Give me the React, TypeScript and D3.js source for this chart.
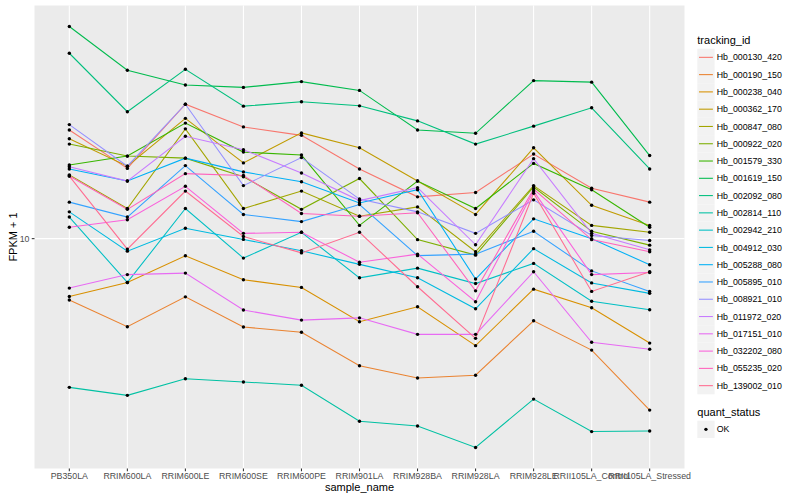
import React from "react";
import * as d3 from "d3";

// ---------- data ----------
const sampleNames = [
  "PB350LA", "RRIM600LA", "RRIM600LE", "RRIM600SE", "RRIM600PE", "RRIM901LA",
  "RRIM928BA", "RRIM928LA", "RRIM928LE", "RRII105LA_Control", "RRII105LA_Stressed",
];

const trackingIds = [
  "Hb_000130_420", "Hb_000190_150", "Hb_000238_040", "Hb_000362_170", "Hb_000847_080",
  "Hb_000922_020", "Hb_001579_330", "Hb_001619_150", "Hb_002092_080", "Hb_002814_110",
  "Hb_002942_210", "Hb_004912_030", "Hb_005288_080", "Hb_005895_010", "Hb_008921_010",
  "Hb_011972_020", "Hb_017151_010", "Hb_032202_080", "Hb_055235_020", "Hb_139002_010",
];

// FPKM + 1 per sample (same order as sampleNames)
const hb000130_420 = [27.2, 19.1, 34.5, 28.0, 25.9, 19.0, 14.7, 15.3, 21.8, 15.9, 14.0];
const hb000190_150 = [5.68, 4.44, 5.85, 4.43, 4.22, 3.10, 2.77, 2.84, 4.69, 3.58, 2.06];
const hb000238_040 = [5.87, 6.68, 8.54, 6.85, 6.38, 4.65, 5.34, 3.73, 6.28, 5.29, 3.82];
const hb000362_170 = [25.1, 19.5, 30.3, 20.1, 26.5, 23.1, 17.0, 12.5, 23.1, 13.6, 11.3];
const hb000847_080 = [18.0, 13.2, 27.5, 13.2, 15.5, 12.3, 13.4, 8.86, 16.3, 11.3, 10.6];
const hb000922_020 = [23.9, 21.4, 21.0, 17.7, 13.1, 17.4, 9.91, 8.59, 16.1, 10.7, 9.42];
const hb001579_330 = [19.7, 21.4, 29.0, 22.2, 21.6, 11.3, 17.0, 13.2, 20.0, 15.7, 11.1];
const hb001619_150 = [70.6, 47.2, 41.2, 40.3, 42.5, 39.2, 27.2, 26.4, 42.9, 42.3, 21.5];
const hb002092_080 = [55.2, 32.2, 47.6, 33.9, 35.3, 34.0, 29.6, 23.9, 28.2, 33.4, 19.0];
const hb002814_110 = [2.54, 2.36, 2.75, 2.67, 2.59, 1.86, 1.78, 1.46, 2.28, 1.69, 1.70];
const hb002942_210 = [12.2, 6.68, 13.2, 8.36, 10.6, 6.97, 7.62, 6.61, 7.96, 5.62, 5.19];
const hb004912_030 = [12.8, 8.91, 11.0, 9.93, 8.94, 7.89, 6.97, 5.24, 9.12, 6.65, 6.04];
const hb005288_080 = [19.0, 17.0, 21.0, 18.5, 16.9, 13.9, 15.7, 6.89, 12.0, 10.0, 7.86];
const hb005895_010 = [14.0, 12.2, 19.6, 12.5, 11.7, 13.7, 8.55, 8.67, 10.7, 7.43, 6.15];
const hb008921_010 = [28.6, 19.5, 34.5, 16.3, 21.1, 14.4, 12.8, 10.5, 14.3, 10.3, 9.83];
const hb011972_020 = [19.4, 17.0, 25.7, 22.7, 18.3, 14.2, 16.0, 9.45, 20.9, 10.5, 9.02];
const hb017151_010 = [6.34, 7.18, 7.28, 5.18, 4.72, 4.82, 4.14, 4.14, 7.37, 3.85, 3.61];
const hb032202_080 = [11.1, 11.9, 16.2, 10.5, 10.6, 8.05, 8.67, 5.59, 15.5, 7.18, 7.32];
const hb055235_020 = [17.8, 13.1, 18.2, 17.9, 12.6, 12.3, 12.7, 6.18, 15.8, 9.91, 8.86];
const hb139002_010 = [17.8, 9.08, 15.5, 10.2, 8.77, 10.6, 6.42, 3.99, 15.2, 6.15, 7.37];

const seriesValues = [
  hb000130_420, hb000190_150, hb000238_040, hb000362_170, hb000847_080,
  hb000922_020, hb001579_330, hb001619_150, hb002092_080, hb002814_110,
  hb002942_210, hb004912_030, hb005288_080, hb005895_010, hb008921_010,
  hb011972_020, hb017151_010, hb032202_080, hb055235_020, hb139002_010,
];

const quantStatus = ["OK"];
const yTickValues = [10];

// ---------- styles ----------
const palette = [
  "#F8766D", "#EA8331", "#D89000", "#C09B00", "#A3A500", "#7CAE00", "#39B600",
  "#00BB4E", "#00BF7D", "#00C1A3", "#00BFC4", "#00BAE0", "#00B0F6", "#35A2FF",
  "#9590FF", "#C77CFF", "#E76BF3", "#FA62DB", "#FF62BC", "#FF6C91",
];
const FONT = "'Liberation Sans', Arial, Helvetica, sans-serif";
const W = 800;
const H = 500;
const panel = { left: 34.5, right: 684.5, top: 5.5, bottom: 468.5 };

export default function App() {
  const x = d3
    .scalePoint<string>()
    .domain(sampleNames)
    .range([panel.left, panel.right])
    .padding(0.6);

  const all = seriesValues.flat();
  const [lo, hi] = d3.extent(all) as [number, number];
  const l0 = Math.log10(lo);
  const l1 = Math.log10(hi);
  const pad = (l1 - l0) * 0.05;
  const y = d3
    .scaleLog()
    .domain([Math.pow(10, l0 - pad), Math.pow(10, l1 + pad)])
    .range([panel.bottom, panel.top]);

  const line = d3
    .line<number>()
    .x((_, i) => x(sampleNames[i]) as number)
    .y((d) => y(d));

  const legendX = 697.3;
  const keySize = 17.28;
  const firstKeyTop = 48.7;

  return (
    <svg
      width={W}
      height={H}
      style={{ position: "absolute", left: 0, top: 0, background: "#fff" }}
      fontFamily={FONT}
    >
      <rect x={0} y={0} width={W} height={H} fill="#fff" />
      {/* panel */}
      <rect
        x={panel.left}
        y={panel.top}
        width={panel.right - panel.left}
        height={panel.bottom - panel.top}
        fill="#EBEBEB"
      />
      {yTickValues.map((t) => (
        <line
          key={"gy" + t}
          x1={panel.left}
          x2={panel.right}
          y1={y(t)}
          y2={y(t)}
          stroke="#fff"
          strokeWidth={1.07}
        />
      ))}
      {sampleNames.map((s) => (
        <line
          key={"gx" + s}
          x1={x(s)}
          x2={x(s)}
          y1={panel.top}
          y2={panel.bottom}
          stroke="#fff"
          strokeWidth={1.07}
        />
      ))}
      {/* lines */}
      {seriesValues.map((vals, i) => (
        <path
          key={"l" + i}
          d={line(vals) as string}
          fill="none"
          stroke={palette[i]}
          strokeWidth={1.07}
        />
      ))}
      {/* points */}
      {seriesValues.map((vals, i) =>
        vals.map((v, j) => (
          <circle
            key={"p" + i + "_" + j}
            cx={x(sampleNames[j])}
            cy={y(v)}
            r={1.7}
            fill="#000"
          />
        ))
      )}
      {/* y axis */}
      {yTickValues.map((t) => (
        <g key={"ty" + t}>
          <line
            x1={panel.left - 2.75}
            x2={panel.left}
            y1={y(t)}
            y2={y(t)}
            stroke="#333333"
            strokeWidth={1.07}
          />
          <text
            x={panel.left - 5}
            y={y(t)}
            dy="0.35em"
            textAnchor="end"
            fontSize={8.8}
            fill="#4D4D4D"
          >
            {t}
          </text>
        </g>
      ))}
      <text
        transform={`translate(13.5,${(panel.top + panel.bottom) / 2}) rotate(-90)`}
        textAnchor="middle"
        dy="0.35em"
        fontSize={11}
        fill="#000"
      >
        FPKM + 1
      </text>
      {/* x axis */}
      {sampleNames.map((s) => (
        <g key={"tx" + s}>
          <line
            x1={x(s)}
            x2={x(s)}
            y1={panel.bottom}
            y2={panel.bottom + 2.75}
            stroke="#333333"
            strokeWidth={1.07}
          />
          <text
            x={x(s)}
            y={478.5}
            textAnchor="middle"
            fontSize={8.8}
            fill="#4D4D4D"
          >
            {s}
          </text>
        </g>
      ))}
      <text
        x={(panel.left + panel.right) / 2}
        y={491}
        textAnchor="middle"
        fontSize={11}
        fill="#000"
      >
        sample_name
      </text>
      {/* legend: tracking_id */}
      <text x={legendX} y={44} fontSize={11} fill="#000">
        tracking_id
      </text>
      {trackingIds.map((id, i) => {
        const top = firstKeyTop + i * keySize;
        return (
          <g key={"lg" + id}>
            <rect x={legendX} y={top} width={keySize} height={keySize} fill="#F2F2F2" />
            <line
              x1={legendX + 1.7}
              x2={legendX + keySize - 1.7}
              y1={top + keySize / 2}
              y2={top + keySize / 2}
              stroke={palette[i]}
              strokeWidth={1.07}
            />
            <text
              x={legendX + keySize + 2.2}
              y={top + keySize / 2}
              dy="0.35em"
              fontSize={8.8}
              fill="#000"
            >
              {id}
            </text>
          </g>
        );
      })}
      {/* legend: quant_status */}
      <text x={legendX} y={415.5} fontSize={11} fill="#000">
        quant_status
      </text>
      {quantStatus.map((q, i) => {
        const top = 420.7 + i * keySize;
        return (
          <g key={"qs" + q}>
            <rect x={legendX} y={top} width={keySize} height={keySize} fill="#F2F2F2" />
            <circle cx={legendX + keySize / 2} cy={top + keySize / 2} r={1.7} fill="#000" />
            <text
              x={legendX + keySize + 2.2}
              y={top + keySize / 2}
              dy="0.35em"
              fontSize={8.8}
              fill="#000"
            >
              {q}
            </text>
          </g>
        );
      })}
    </svg>
  );
}
